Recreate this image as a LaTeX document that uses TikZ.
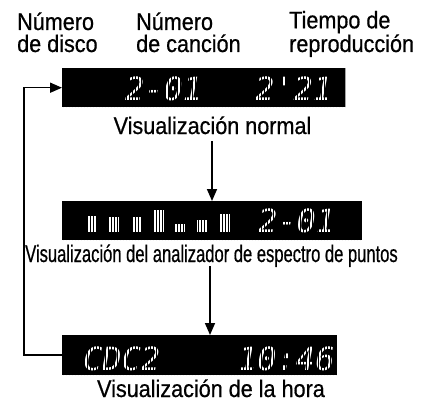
\documentclass[tikz,border=0pt]{standalone}
\usepackage{fontspec}
\setmainfont[FakeStretch=0.9,FakeBold=0.6]{Liberation Sans}
\newfontfamily\narrowfont[FakeStretch=0.69,FakeBold=0.6]{Liberation Sans}
\newfontfamily\lcdfont{DejaVu Sans Mono}
\usetikzlibrary{arrows.meta}
\begin{document}
\begin{tikzpicture}[x=1pt,y=-1pt,
  lcd/.style={fill=black, inner sep=0, anchor=north west},
  lcdtext/.style={text=white, inner sep=0, font=\lcdfont\itshape\fontsize{32}{32}\selectfont, anchor=base west},
  toplabel/.style={inner sep=0, align=left, font=\fontsize{24}{22}\selectfont, anchor=base west},
  caption/.style={inner sep=0, font=\fontsize{24}{24}\selectfont, anchor=base},
  flow/.style={line width=1.6, -{Triangle[width=10,length=12]}},
  dotgrid/.style={black, line width=0.9, step=3},
]
\useasboundingbox (0,0) rectangle (433,401);
% top labels (base = last line)
\node[toplabel] (l1) at (17,52) {Número\\de disco};
\node[toplabel] (l2) at (136,52) {Número\\de canción};
\node[toplabel] (l3) at (289,52) {Tiempo de\\reproducción};
% displays
\node[lcd, minimum width=283, minimum height=39] (b1) at (62,68) {};
\node[lcd, minimum width=300, minimum height=39] (b2) at (62,201) {};
\node[lcd, minimum width=275, minimum height=40] (b3) at (62,335) {};
% display texts
\node[lcdtext] (t1a) at (125,101) {2-01};
\node[lcdtext] (t1b) at (255,101) {2'21};
\node[lcdtext] (t2a) at (258,232) {2-01};
\node[lcdtext] (t3a) at (83,370) {CDC2};
\node[lcdtext] (t3b) at (238,370) {10:46};
% spectrum bars
\foreach \bx/\by in {87/216, 109/217, 132/217, 154/210, 175/224, 197/220, 220/214}
  \fill[white] (\bx,\by) rectangle ++(10,232-\by);
% dot-matrix overlay
\foreach \b in {b1,b2,b3}{
  \begin{scope}
    \clip (\b.north west) rectangle (\b.south east);
    \draw[dotgrid] (\b.north west) grid (\b.south east);
  \end{scope}
}
% captions
\node[caption] (c1) at (212.5,134) {Visualización normal};
\node[caption, font=\narrowfont\fontsize{24}{24}\selectfont] (c2) at (211.5,262) {Visualización del analizador de espectro de puntos};
\node[caption] (c3) at (211,397) {Visualización de la hora};
% arrows
\coordinate (a1) at (212,141);
\coordinate (a2) at (210,266);
\draw[flow] (a1) -- (a1 |- b2.north);
\draw[flow] (a2) -- (a2 |- b3.north);
\draw[flow] (b3.west) -- ++(-38,0) |- (b1.west);
\end{tikzpicture}
\end{document}
